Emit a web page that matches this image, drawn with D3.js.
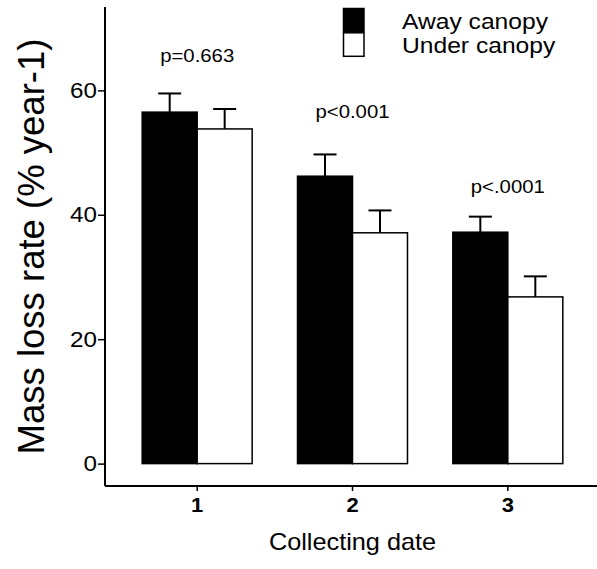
<!DOCTYPE html>
<html>
<head>
<meta charset="utf-8">
<script src="https://cdn.jsdelivr.net/npm/d3@7"></script>
<style>
  body { margin: 0; background: #fff; }
  svg { display: block; }
  text { font-family: "Liberation Sans", Arial, sans-serif; fill: #000; }
</style>
</head>
<body>
<svg id="chart" width="597" height="569"></svg>
<script>
// ---- data ----
const categories = ["1", "2", "3"];
const seriesNames = ["Away canopy", "Under canopy"];
const awayMean = [56.5, 46.2, 37.2];
const awaySE = [3.0, 3.5, 2.5];
const underMean = [53.8, 37.1, 26.8];
const underSE = [3.2, 3.6, 3.3];
const pLabels = ["p=0.663", "p<0.001", "p<.0001"];
const pLabelY = [64.5, 55.6, 43.5];
const yTicks = [0, 20, 40, 60];
const seriesFill = ["#000000", "#ffffff"];

(function () {
const SX = 1.1; // horizontal stretch of glyphs in the reference

const svg = d3.select("#chart");
const mL = 105, mR = 600, mT = 7, mB = 486;

const x = d3.scaleBand().domain(categories).range([mL, mR])
  .paddingInner(0.292).paddingOuter(0.2395);
const xs = d3.scaleBand().domain(seriesNames).range([0, x.bandwidth()]);
const y = d3.scaleLinear().domain([-3.6, 73.4]).range([mB, mT]);

const rows = [];
categories.forEach((c, i) => {
  rows.push({cat: c, s: seriesNames[0], mean: awayMean[i], se: awaySE[i], fill: seriesFill[0]});
  rows.push({cat: c, s: seriesNames[1], mean: underMean[i], se: underSE[i], fill: seriesFill[1]});
});

// error bars
const eb = svg.append("g").attr("stroke", "#000").attr("stroke-width", 2);
rows.forEach(d => {
  const cx = x(d.cat) + xs(d.s) + xs.bandwidth() / 2;
  eb.append("line").attr("x1", cx).attr("x2", cx)
    .attr("y1", y(d.mean)).attr("y2", y(d.mean + d.se));
  eb.append("line").attr("x1", cx - 11.5).attr("x2", cx + 11.5)
    .attr("y1", y(d.mean + d.se)).attr("y2", y(d.mean + d.se));
});

// bars
svg.append("g").selectAll("rect").data(rows).join("rect")
  .attr("x", d => x(d.cat) + xs(d.s))
  .attr("width", xs.bandwidth())
  .attr("y", d => y(d.mean))
  .attr("height", d => y(0) - y(d.mean))
  .attr("fill", d => d.fill)
  .attr("stroke", "#000").attr("stroke-width", 1.5);

// y axis
const gy = svg.append("g").attr("transform", `translate(${mL},0)`)
  .call(d3.axisLeft(y).tickValues(yTicks).tickSize(7).tickPadding(1).tickFormat(d3.format("d")));
gy.select(".domain").attr("d", `M0,${mT}V${mB}`).attr("stroke-width", 2);
gy.selectAll(".tick line").attr("stroke-width", 1.5);
gy.selectAll(".tick text")
  .attr("font-size", 22).attr("font-family", null)
  .attr("x", -8 / SX).attr("transform", `scale(${SX},1)`)
  .attr("fill", "#111");

// x axis
const gx = svg.append("g").attr("transform", `translate(0,${mB})`)
  .call(d3.axisBottom(x).tickSize(5));
gx.select(".domain").attr("d", `M${mL},0H${mR}`).attr("stroke-width", 2);
gx.selectAll(".tick line").attr("stroke-width", 1.5);
gx.selectAll(".tick text")
  .attr("font-size", 20).attr("font-weight", "bold").attr("font-family", null)
  .attr("y", 26.3).attr("dy", 0).attr("transform", `scale(${SX},1)`);

// p-value labels
pLabels.forEach((t, i) => {
  svg.append("text")
    .attr("transform", `translate(${x(categories[i]) + x.bandwidth() / 2},${y(pLabelY[i])}) scale(${SX},1)`)
    .attr("text-anchor", "middle").attr("font-size", 18.5)
    .text(t);
});

// axis titles
svg.append("text")
  .attr("transform", `translate(${(mL + mR) / 2},550) scale(${SX},1)`)
  .attr("text-anchor", "middle").attr("font-size", 23)
  .text("Collecting date");
svg.append("text")
  .attr("transform", `translate(43.5,${(mT + mB) / 2}) rotate(-90)`)
  .attr("text-anchor", "middle").attr("font-size", 36.5)
  .text("Mass loss rate (% year-1)");

// legend
const lg = svg.append("g");
seriesNames.forEach((s, i) => {
  lg.append("rect").attr("x", 343.5).attr("y", 8.5 + i * 24.3)
    .attr("width", 20.5).attr("height", 23.5)
    .attr("fill", seriesFill[i]).attr("stroke", "#000").attr("stroke-width", 1.5);
  lg.append("text")
    .attr("transform", `translate(402,${29 + i * 23.7}) scale(${SX},1)`)
    .attr("font-size", 22.4).text(s);
});
})();
</script>
</body>
</html>
